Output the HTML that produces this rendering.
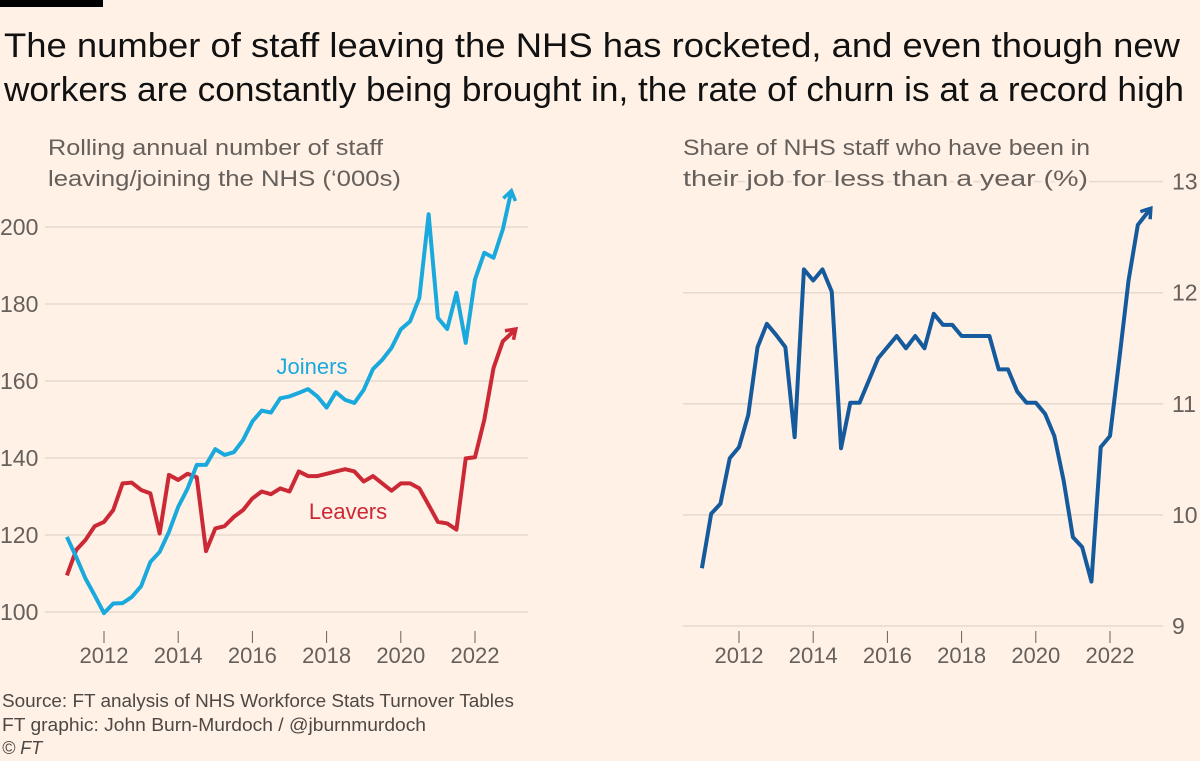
<!DOCTYPE html>
<html><head><meta charset="utf-8"><style>
html,body{margin:0;padding:0;background:#fff1e5;}
svg{display:block;font-family:"Liberation Sans",sans-serif;}
.halo{paint-order:stroke;stroke:#fff1e5;stroke-width:5px;stroke-linejoin:round;}
</style></head><body>
<svg id="chart" width="1200" height="761" viewBox="0 0 1200 761">
<rect x="0" y="0" width="1200" height="761" fill="#fff1e5"/>
<rect x="0" y="0" width="103" height="7" fill="#000"/>
<text x="4" y="57" font-size="34" fill="#111" textLength="1176" lengthAdjust="spacingAndGlyphs">The number of staff leaving the NHS has rocketed, and even though new</text>
<text x="4" y="101" font-size="34" fill="#111" textLength="1180" lengthAdjust="spacingAndGlyphs">workers are constantly being brought in, the rate of churn is at a record high</text>
<g id="left"></g>
<g id="right"></g>
<text x="48" y="155" font-size="22" fill="#66605c" textLength="335" lengthAdjust="spacingAndGlyphs">Rolling annual number of staff</text>
<text x="48" y="186" font-size="22" fill="#66605c" textLength="353" lengthAdjust="spacingAndGlyphs">leaving/joining the NHS (‘000s)</text>
<text x="683" y="155" font-size="22" fill="#66605c" textLength="407" lengthAdjust="spacingAndGlyphs">Share of NHS staff who have been in</text>
<text class="halo" x="683" y="186" font-size="22" fill="#66605c" textLength="405" lengthAdjust="spacingAndGlyphs">their job for less than a year (%)</text>
<text x="2" y="707" font-size="18" fill="#4d4845" textLength="512" lengthAdjust="spacingAndGlyphs">Source: FT analysis of NHS Workforce Stats Turnover Tables</text>
<text x="2" y="731" font-size="18" fill="#4d4845" textLength="424" lengthAdjust="spacingAndGlyphs">FT graphic: John Burn-Murdoch / @jburnmurdoch</text>
<text x="2" y="754" font-size="18" fill="#4d4845" font-style="italic">© FT</text>
</svg>
<script>
const dates=[2011.00,2011.25,2011.50,2011.75,2012.00,2012.25,2012.50,2012.75,2013.00,2013.25,2013.50,2013.75,2014.00,2014.25,2014.50,2014.75,2015.00,2015.25,2015.50,2015.75,2016.00,2016.25,2016.50,2016.75,2017.00,2017.25,2017.50,2017.75,2018.00,2018.25,2018.50,2018.75,2019.00,2019.25,2019.50,2019.75,2020.00,2020.25,2020.50,2020.75,2021.00,2021.25,2021.50,2021.75,2022.00,2022.25,2022.50,2022.75];
const joiners=[119.5,114.3,108.7,104.3,99.7,102.2,102.3,103.9,106.7,113,115.6,120.8,127.3,132,138.2,138.2,142.3,140.8,141.5,144.7,149.5,152.3,151.8,155.5,156,156.9,157.9,156,153.1,157.1,155.1,154.3,157.7,163.1,165.5,168.6,173.4,175.5,181.6,203.3,176.4,173.5,182.9,169.9,186.4,193.3,192,199.4];
const leavers=[109.5,116.1,118.7,122.3,123.4,126.5,133.4,133.6,131.7,130.8,120.4,135.6,134.3,135.9,135,115.8,121.7,122.3,124.7,126.5,129.5,131.3,130.6,132.1,131.3,136.5,135.3,135.3,135.9,136.5,137.1,136.5,133.9,135.3,133.4,131.5,133.4,133.4,132.1,127.8,123.4,123,121.4,139.9,140.2,149.9,163.4,170.3];
const shareNew=[9.52,10.01,10.10,10.51,10.61,10.90,11.51,11.72,11.62,11.51,10.70,12.21,12.11,12.21,12.01,10.60,11.01,11.01,11.21,11.41,11.51,11.61,11.50,11.61,11.50,11.81,11.71,11.71,11.61,11.61,11.61,11.61,11.31,11.31,11.11,11.01,11.01,10.91,10.71,10.31,9.80,9.71,9.40,10.61,10.71,11.40,12.11,12.61];
const joinersTip=[2022.98,209.4];
const leaversTip=[2023.10,173.5];
const shareTip=[2023.10,12.76];
const xTicks=[2012,2014,2016,2018,2020,2022];
const leftYTicks=[100,120,140,160,180,200];
const rightYTicks=[9,10,11,12,13];

const NS="http://www.w3.org/2000/svg";
function mk(tag,attrs,parent){const e=document.createElementNS(NS,tag);for(const k in attrs)e.setAttribute(k,attrs[k]);parent.appendChild(e);return e;}
const xL=d=>104+(d-2012)*37.1;
const xR=d=>739+(d-2012)*37.1;
const yL=v=>612-(v-100)*3.85;
const yR=v=>626-(v-9)*111.1;
const L=document.getElementById('left'), R=document.getElementById('right');

leftYTicks.forEach(v=>{
  const g=mk('line',{x1:45,x2:528,y1:yL(v),y2:yL(v),stroke:'#e6d9ce','stroke-width':1.5},L);
  
  
  const t=mk('text',{x:0,y:yL(v)+8,'font-size':23,fill:'#66605c'},L);t.textContent=v;
  
  
});
rightYTicks.forEach(v=>{
  const g=mk('line',{x1:683,x2:1163,y1:yR(v),y2:yR(v),stroke:'#e6d9ce','stroke-width':1.5},R);
  
  
  const t=mk('text',{x:1172,y:yR(v)+8,'font-size':23,fill:'#66605c'},R);t.textContent=v;
  
  
});
[[L,xL,'left'],[R,xR,'right']].forEach(([P,xf,n])=>{
  xTicks.forEach(y=>{
    const l=mk('line',{x1:xf(y),x2:xf(y),y1:631,y2:643,stroke:'#66605c','stroke-width':1},P);
    
    
    const t=mk('text',{x:xf(y),y:663,'font-size':22,fill:'#66605c','text-anchor':'middle'},P);t.textContent=y;
    
    
  });
});
function series(P,xf,yf,vals,tip,color,name){
  const pts=vals.map((v,i)=>[xf(dates[i]),yf(v)]);
  const tx=xf(tip[0]),ty=yf(tip[1]);
  pts.push([tx,ty]);
  const p=mk('polyline',{points:pts.map(q=>q.join(',')).join(' '),fill:'none',stroke:color,'stroke-width':4,'stroke-linejoin':'round'},P);
  
  
  const [px,py]=pts[pts.length-2];
  const a=Math.atan2(ty-py,tx-px),s=11;
  const h=mk('polyline',{points:`${tx-s*Math.cos(a-0.6)},${ty-s*Math.sin(a-0.6)} ${tx},${ty} ${tx-s*Math.cos(a+0.6)},${ty-s*Math.sin(a+0.6)}`,fill:'none',stroke:color,'stroke-width':3.5,'stroke-linejoin':'miter'},P);
  
  
}
series(L,xL,yL,leavers,leaversTip,'#cc2936','leavers');
series(L,xL,yL,joiners,joinersTip,'#1aa9dd','joiners');
series(R,xR,yR,shareNew,shareTip,'#155a9c','share-new-staff');
const j=mk('text',{x:312,y:374,'font-size':22,fill:'#1aa9dd','text-anchor':'middle'},L);j.textContent='Joiners';


const lv=mk('text',{x:348,y:519,'font-size':22,fill:'#cc2936','text-anchor':'middle'},L);lv.textContent='Leavers';


</script>
</body></html>
